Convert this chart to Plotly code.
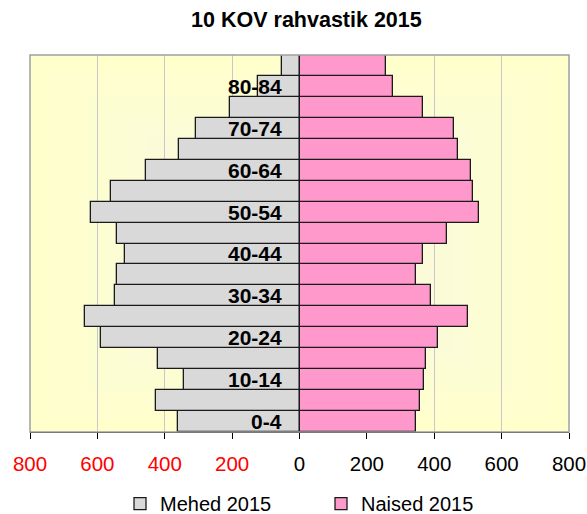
import plotly.graph_objects as go

age_groups = ["0-4", "5-9", "10-14", "15-19", "20-24", "25-29", "30-34", "35-39", "40-44",
              "45-49", "50-54", "55-59", "60-64", "65-69", "70-74", "75-79", "80-84", "85+"]
men_2015 = [361, 425, 342, 420, 590, 637, 547, 542, 519, 543, 618, 559, 457, 358, 307, 205, 123, 51]
women_2015 = [346, 359, 371, 375, 410, 501, 391, 346, 367, 437, 532, 516, 508, 470, 458, 367, 277, 257]
shown_labels = ["0-4", "10-14", "20-24", "30-34", "40-44", "50-54", "60-64", "70-74", "80-84"]
tick_values = [-800, -600, -400, -200, 0, 200, 400, 600, 800]
tick_labels = ["800", "600", "400", "200", "0", "200", "400", "600", "800"]

FONT = "Arial, Liberation Sans, sans-serif"

fig = go.Figure()
fig.add_trace(go.Bar(
    y=age_groups, x=[-v for v in men_2015], orientation="h", name="Mehed 2015",
    marker=dict(color="#D9D9D9", line=dict(color="#1a1a1a", width=1.3)),
))
fig.add_trace(go.Bar(
    y=age_groups, x=women_2015, orientation="h", name="Naised 2015",
    marker=dict(color="#FF99CC", line=dict(color="#1a1a1a", width=1.3)),
))

# background gradient (rectangular, lighter towards centre)
shapes = []
n = 14
c0 = (255, 255, 204)
c1 = (247, 247, 230)
for i in range(n):
    t = i / (n - 1)
    col = tuple(round(c0[k] + (c1[k] - c0[k]) * t) for k in range(3))
    d = 0.5 * i / n
    shapes.append(dict(type="rect", xref="paper", yref="paper", x0=d, x1=1 - d,
                       y0=d, y1=1 - d, fillcolor="rgb(%d,%d,%d)" % col,
                       line=dict(width=0), layer="below"))
shapes.append(dict(type="rect", xref="paper", yref="paper", x0=0, x1=1, y0=0, y1=1,
                   line=dict(color="#A0A0A0", width=1.5), layer="above"))
fig.update_layout(shapes=shapes)

for lab in shown_labels:
    fig.add_annotation(x=0, y=lab, xref="x", yref="y", text="<b>%s</b>" % lab,
                       showarrow=False, xanchor="right", xshift=-16,
                       font=dict(family=FONT, size=21, color="black"))

ticktext = [("<span style='color:#FF0000'>%s</span>" % t) if v < 0 else t
            for v, t in zip(tick_values, tick_labels)]

fig.update_layout(
    width=587, height=514,
    margin=dict(l=30, r=18, t=55, b=82, autoexpand=False),
    paper_bgcolor="white", plot_bgcolor="rgba(0,0,0,0)",
    barmode="relative", bargap=0,
    font=dict(family=FONT, size=20, color="black"),
    title=dict(text="<b>10 KOV rahvastik 2015</b>", x=0.522, xref="container",
               xanchor="center", y=1 - 19 / 514, yanchor="middle",
               font=dict(family=FONT, size=21.5, color="black")),
    xaxis=dict(range=[-800, 800], tickvals=tick_values, ticktext=ticktext,
               showgrid=True, gridcolor="#C8C8C8", gridwidth=1, zeroline=False,
               showline=True, linecolor="black", linewidth=1.2,
               ticks="outside", ticklen=6, tickcolor="black",
               ticklabelstandoff=7, automargin=False,
               tickfont=dict(family=FONT, size=20.5, color="black")),
    yaxis=dict(range=[-0.5, 17.5], showticklabels=False, showgrid=False, zeroline=False,
               ticks="", automargin=False),
    legend=dict(orientation="h", x=0.167, xanchor="left", y=-0.19, yanchor="middle",
                font=dict(family=FONT, size=20, color="black"),
                itemwidth=30, entrywidth=156, tracegroupgap=0),
    showlegend=True,
)

fig.write_html("out.html", config={"displayModeBar": False},
               post_script="document.body.style.margin='0px';")
